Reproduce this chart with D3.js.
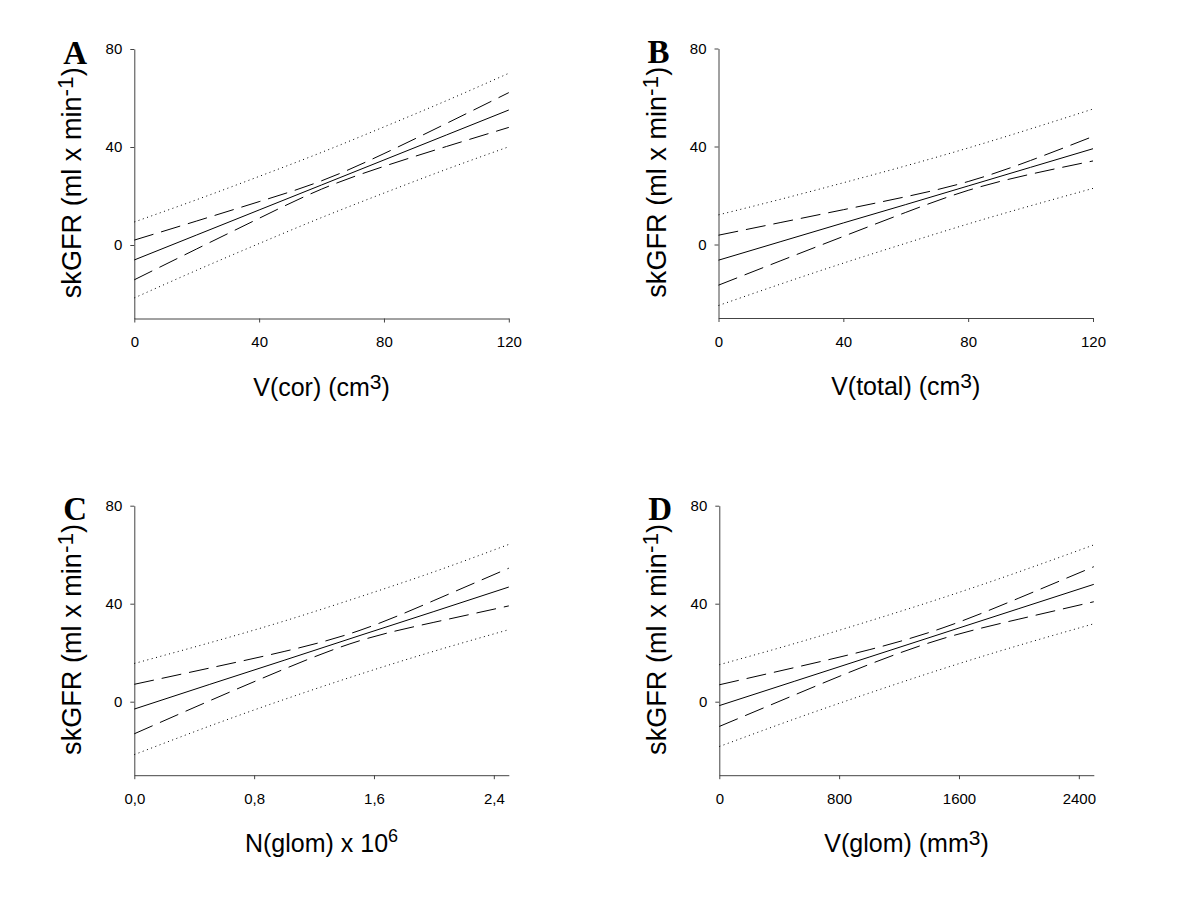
<!DOCTYPE html>
<html>
<head>
<meta charset="utf-8">
<script src="https://cdn.jsdelivr.net/npm/d3@7"></script>
<style>
  html, body { margin: 0; padding: 0; background: #fff; }
  svg { display: block; }
  text { font-family: "Liberation Sans", Arial, sans-serif; fill: #000; }
</style>
</head>
<body>
<svg id="chart" width="1200" height="910"></svg>
<script>
// ---------- data ----------
const panelLetters = ["A", "B", "C", "D"];
const yTicks = [0, 40, 80];

// Panel A: V(cor)
const xA      = [0, 20, 40, 60, 80, 100, 120];
const fitA    = [-6.1, 4.1, 14.3, 24.5, 34.7, 44.9, 55.1];
const ciUpA   = [2.0, 9.8, 17.7, 26.2, 37.3, 49.6, 62.2];
const ciLoA   = [-14.2, -1.6, 10.9, 22.8, 32.1, 40.2, 48.0];
const piUpA   = [9.4, 18.5, 28.0, 37.8, 48.2, 58.9, 70.1];
const piLoA   = [-21.6, -10.3, 0.6, 11.2, 21.2, 30.9, 40.1];
const xTicksA = [0, 40, 80, 120];

// Panel B: V(total)
const xB      = [0, 20, 40, 60, 80, 100, 120];
const fitB    = [-6.4, 1.2, 8.8, 16.3, 23.9, 31.5, 39.1];
const ciUpB   = [3.8, 9.0, 14.2, 19.5, 25.7, 34.3, 44.1];
const ciLoB   = [-16.6, -6.6, 3.3, 13.1, 22.1, 28.7, 34.1];
const piUpB   = [12.1, 18.5, 25.2, 32.1, 39.4, 47.2, 55.3];
const piLoB   = [-24.9, -16.1, -7.6, 0.5, 8.4, 15.8, 22.9];
const xTicksB = [0, 40, 80, 120];

// Panel C: N(glom) x 10^6
const xC      = [0, 0.5, 1.0, 1.5, 2.0, 2.5];
const fitC    = [-3.0, 7.0, 16.9, 26.9, 36.8, 46.8];
const ciUpC   = [7.1, 13.7, 20.5, 29.0, 41.3, 54.5];
const ciLoC   = [-13.1, 0.3, 13.3, 24.8, 32.4, 39.1];
const piUpC   = [15.6, 24.0, 32.9, 42.7, 53.0, 64.2];
const piLoC   = [-21.6, -10.0, 0.9, 11.1, 20.6, 29.4];
const xTicksC = [0, 0.8, 1.6, 2.4];
const xTickLabelsC = ["0,0", "0,8", "1,6", "2,4"];

// Panel D: V(glom)
const xD      = [0, 500, 1000, 1500, 2000, 2500];
const fitD    = [-1.6, 8.3, 18.2, 28.1, 38.0, 47.9];
const ciUpD   = [6.9, 13.9, 21.2, 30.3, 42.3, 55.1];
const ciLoD   = [-10.1, 2.7, 15.2, 25.9, 33.7, 40.8];
const piUpD   = [15.1, 23.7, 32.9, 42.6, 53.0, 64.0];
const piLoD   = [-18.3, -7.1, 3.5, 13.6, 23.0, 31.8];
const xTicksD = [0, 800, 1600, 2400];

const xDomains = [[0, 120], [0, 120], [0, 2.5], [0, 2500]];
const yDomain = [-30, 80];

// x-axis titles: [main, superscript, tail]
const xTitles = [
  ["V(cor) (cm", "3", ")"],
  ["V(total) (cm", "3", ")"],
  ["N(glom) x 10", "6", ""],
  ["V(glom) (mm", "3", ")"]
];
const yTitle = ["skGFR (ml x min", "-1", ")"];

// ---------- build ----------
const panels = [
  { x: xA, fit: fitA, ciUp: ciUpA, ciLo: ciLoA, piUp: piUpA, piLo: piLoA, ticks: xTicksA, fmt: d => String(d) },
  { x: xB, fit: fitB, ciUp: ciUpB, ciLo: ciLoB, piUp: piUpB, piLo: piLoB, ticks: xTicksB, fmt: d => String(d) },
  { x: xC, fit: fitC, ciUp: ciUpC, ciLo: ciLoC, piUp: piUpC, piLo: piLoC, ticks: xTicksC, fmt: (d, i) => xTickLabelsC[i] },
  { x: xD, fit: fitD, ciUp: ciUpD, ciLo: ciLoD, piUp: piUpD, piLo: piLoD, ticks: xTicksD, fmt: d => String(d) }
];

const layout = [
  { left: 134.3, top: 49 },
  { left: 718.5, top: 48.5 },
  { left: 134.3, top: 505.7 },
  { left: 719.3, top: 505.7 }
];
const W = 374.5, H = 269.5;

const svg = d3.select("#chart");

panels.forEach((p, k) => {
  const L = layout[k];
  const g = svg.append("g").attr("transform", `translate(${L.left},${L.top})`);
  const x = d3.scaleLinear().domain(xDomains[k]).range([0, W]);
  const y = d3.scaleLinear().domain(yDomain).range([H, 0]);

  // axes
  const ya = g.append("g")
    .call(d3.axisLeft(y).tickValues(yTicks).tickSize(4).tickSizeOuter(0).tickPadding(8));
  const xa = g.append("g").attr("transform", `translate(0,${H})`)
    .call(d3.axisBottom(x).tickValues(p.ticks).tickSize(4).tickSizeOuter(0).tickPadding(14)
      .tickFormat(p.fmt));
  [ya, xa].forEach(a => {
    a.select(".domain").attr("stroke", "#444").attr("stroke-width", 1);
    a.selectAll(".tick line").attr("stroke", "#444");
    a.selectAll(".tick text").style("font-size", "15px").attr("fill", "#000")
      .style("font-family", '"Liberation Sans", Arial, sans-serif');
  });

  // regression line, confidence band (dashed), prediction band (dotted)
  const series = [
    { v: p.piUp, dash: "1,3.5", curve: d3.curveNatural },
    { v: p.piLo, dash: "1,3.5", curve: d3.curveNatural },
    { v: p.ciUp, dash: "20,8", curve: d3.curveNatural },
    { v: p.ciLo, dash: "20,8", curve: d3.curveNatural },
    { v: p.fit,  dash: null,   curve: d3.curveLinear }
  ];
  series.forEach(s => {
    const line = d3.line().x((d, i) => x(p.x[i])).y(d => y(d)).curve(s.curve);
    g.append("path")
      .attr("d", line(s.v))
      .attr("fill", "none")
      .attr("stroke", "#000")
      .attr("stroke-width", 1)
      .attr("stroke-dasharray", s.dash);
  });

  // x-axis title
  const supRaise = k === 2 ? 10 : 7;
  const xt = g.append("text")
    .attr("x", W / 2).attr("y", H + 77)
    .attr("text-anchor", "middle")
    .style("font-size", "25px");
  xt.append("tspan").text(xTitles[k][0]);
  xt.append("tspan").attr("dy", -supRaise).style("font-size", k === 2 ? "18px" : "21px").text(xTitles[k][1]);
  if (xTitles[k][2]) xt.append("tspan").attr("dy", supRaise).text(xTitles[k][2]);

  // y-axis title, sized so that it spans the same length as in the reference
  const yt = g.append("text")
    .attr("transform", `translate(-53,${H / 2 - 1}) rotate(-90)`)
    .attr("text-anchor", "middle")
    .style("font-size", "24px");
  yt.append("tspan").text(yTitle[0]);
  const t2 = yt.append("tspan").attr("dy", -7).style("font-size", "20px").text(yTitle[1]);
  const t3 = yt.append("tspan").attr("dy", 7).text(yTitle[2]);
  const len = yt.node().getComputedTextLength();
  const f = 231 / len;
  yt.style("font-size", (24 * f) + "px");
  t2.style("font-size", (20 * f) + "px").attr("dy", -7 * f);
  t3.attr("dy", 7 * f);

  // panel letter
  g.append("text")
    .attr("x", -71).attr("y", 14.5)
    .style("font-family", '"Liberation Serif", "Times New Roman", serif')
    .style("font-weight", "bold")
    .style("font-size", "33px")
    .text(panelLetters[k]);
});
</script>
</body>
</html>
